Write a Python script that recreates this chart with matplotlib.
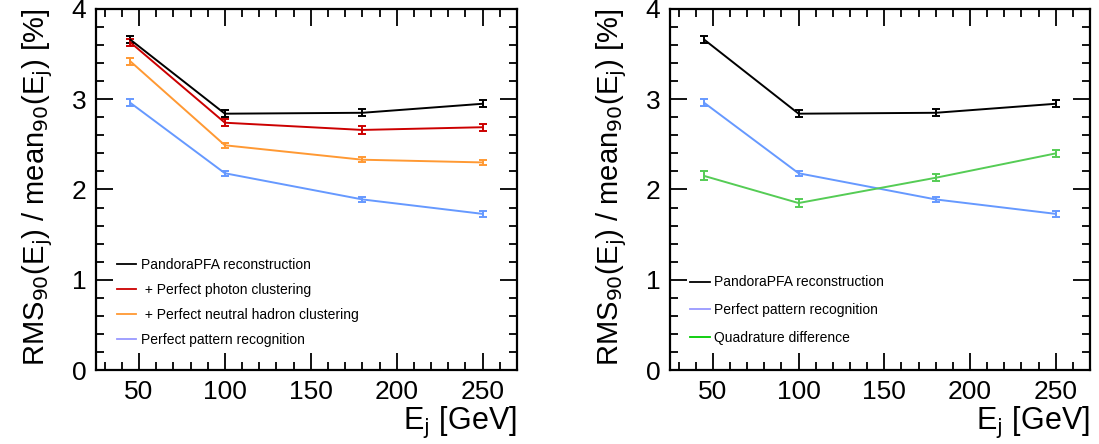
import matplotlib
matplotlib.use("Agg")
import matplotlib.pyplot as plt
from matplotlib.lines import Line2D
from matplotlib.ticker import MultipleLocator

plt.rcParams["font.family"] = ["Liberation Sans", "DejaVu Sans"]

# jet energies [GeV]
energies = [45, 100, 180, 250]

# RMS90 / mean90 [%]
pandora = [3.66, 2.84, 2.85, 2.95]
pandora_err = [0.04, 0.04, 0.04, 0.04]
photon = [3.63, 2.74, 2.66, 2.69]
photon_err = [0.04, 0.04, 0.04, 0.04]
neutral = [3.42, 2.49, 2.33, 2.30]
neutral_err = [0.04, 0.03, 0.03, 0.03]
perfect = [2.96, 2.18, 1.89, 1.73]
perfect_err = [0.04, 0.03, 0.03, 0.03]
quad_diff = [2.15, 1.85, 2.13, 2.40]
quad_diff_err = [0.05, 0.04, 0.04, 0.04]

left_labels = ["PandoraPFA reconstruction", " + Perfect photon clustering",
               " + Perfect neutral hadron clustering", "Perfect pattern recognition"]
right_labels = ["PandoraPFA reconstruction", "Perfect pattern recognition",
                "Quadrature difference"]

C_BLACK = "#000000"
C_RED = "#cc0000"
C_ORANGE = "#ff9933"
C_BLUE = "#6699ff"
C_GREEN = "#55cc55"

W, H = 1099, 444
fig = plt.figure(figsize=(W / 100, H / 100), dpi=100)


def frame(x0, x1, y0=9, y1=370):
    return fig.add_axes([x0 / W, (H - y1) / H, (x1 - x0) / W, (y1 - y0) / H])


def style(ax):
    ax.set_xlim(25, 270)
    ax.set_ylim(0, 4)
    ax.xaxis.set_major_locator(MultipleLocator(50))
    ax.xaxis.set_minor_locator(MultipleLocator(10))
    ax.yaxis.set_major_locator(MultipleLocator(1))
    ax.yaxis.set_minor_locator(MultipleLocator(0.2))
    ax.tick_params(which="both", direction="in", top=True, right=True,
                   width=1.3, labelsize=19)
    ax.tick_params(which="major", length=12, pad=7)
    ax.tick_params(which="minor", length=6)
    for s in ax.spines.values():
        s.set_linewidth(1.6)
    ax.set_xlabel("E$_{\\mathrm{j}}$ [GeV]", fontsize=22, loc="right", labelpad=0)
    ax.set_ylabel("RMS$_{90}$(E$_{\\mathrm{j}}$) / mean$_{90}$(E$_{\\mathrm{j}}$) [%]",
                  fontsize=21, loc="top", labelpad=12)


def series(ax, y, err, color):
    ax.errorbar(energies, y, yerr=err, color=color, lw=1.4, elinewidth=1.4,
                capsize=3, capthick=1.4)


# left panel
ax1 = frame(96, 517)
style(ax1)
series(ax1, pandora, pandora_err, C_BLACK)
series(ax1, photon, photon_err, C_RED)
series(ax1, neutral, neutral_err, C_ORANGE)
series(ax1, perfect, perfect_err, C_BLUE)
h1 = [Line2D([], [], color=c, lw=1.3) for c in (C_BLACK, C_RED, C_ORANGE, "#9999ff")]
ax1.legend(h1, left_labels, loc="upper left", bbox_to_anchor=(0.05, 0.31),
           frameon=False, fontsize=10, borderpad=0, borderaxespad=0,
           labelspacing=0.78, handlelength=1.4, handletextpad=0.35)

# right panel
ax2 = frame(670, 1090)
style(ax2)
series(ax2, pandora, pandora_err, C_BLACK)
series(ax2, perfect, perfect_err, C_BLUE)
series(ax2, quad_diff, quad_diff_err, C_GREEN)
h2 = [Line2D([], [], color=c, lw=1.3) for c in (C_BLACK, "#9999ff", "#00cc00")]
ax2.legend(h2, right_labels, loc="upper left", bbox_to_anchor=(0.048, 0.262),
           frameon=False, fontsize=10, borderpad=0, borderaxespad=0,
           labelspacing=1.0, handlelength=1.4, handletextpad=0.35)

fig.savefig("out.png", dpi=100)
